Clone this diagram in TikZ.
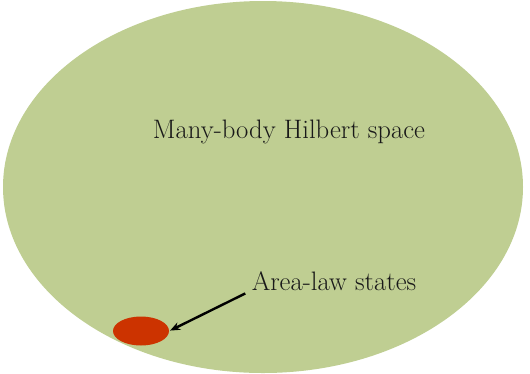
\documentclass[tikz,border=0pt]{standalone}
\usepackage{fontspec}
\usepackage{tikz}
\usetikzlibrary{arrows.meta,positioning,shapes.geometric}
\definecolor{hsgreen}{HTML}{BFCE92}
\definecolor{alred}{HTML}{CC3300}

\begin{document}
\begin{tikzpicture}[
  x=1pt,y=1pt,
  every node/.style={font=\fontsize{26.7}{32}\selectfont},
  H/.style={ellipse,fill=hsgreen,draw=none,
            minimum width=520pt,minimum height=372pt,inner sep=0pt},
  AL/.style={ellipse,fill=alred,draw=none,
             minimum width=56pt,minimum height=29pt,inner sep=0pt},
  lbl/.style={inner sep=0pt,text=black!90},
  ar/.style={-{Stealth[length=10pt,width=8pt]},line width=2.4pt,black}
]
\useasboundingbox (0,0) rectangle (530,-373);
\node[H](Hs) at (263,-187){};
\node[AL](AL) at (141,-331){};
\node[lbl](Ht) at (289,-132){Many-body Hilbert space};
\node[lbl](At) at (334,-281){Area-law states};

\draw[ar,shorten <=7pt,shorten >=1pt](At.base west)--(AL.east);
\end{tikzpicture}
\end{document}
